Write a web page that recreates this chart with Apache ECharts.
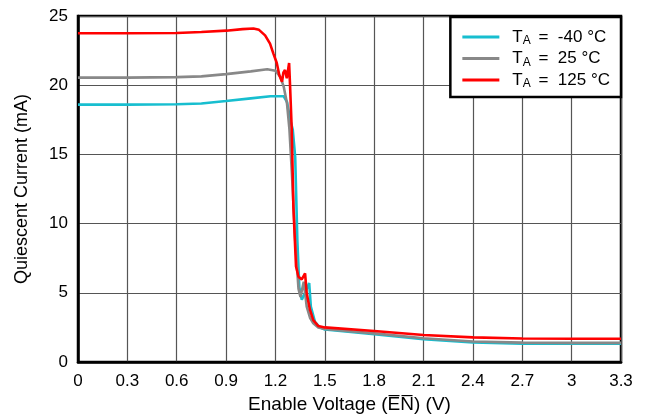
<!DOCTYPE html>
<html>
<head>
<meta charset="utf-8">
<script src="https://cdn.jsdelivr.net/npm/echarts@6/dist/echarts.min.js"></script>
<style>html,body{margin:0;padding:0;background:#fff}#c{width:650px;height:420px}</style>
</head>
<body>
<div id="c"></div>
<script>
const seriesNames = ['TA = -40 °C', 'TA = 25 °C', 'TA = 125 °C'];
const legendTemps = ['-40', '25', '125'];
const xTicks = { min: 0, max: 3.3, interval: 0.3 };
const yTicks = { min: 0, max: 25, interval: 5 };

const cyanX = [0, 0.3, 0.6, 0.75, 0.9, 1.05, 1.17, 1.25, 1.27, 1.29, 1.305, 1.32, 1.333, 1.345, 1.36, 1.38, 1.405, 1.415, 1.44, 1.47, 1.5, 1.8, 2.1, 2.4, 2.7, 3.0, 3.3];
const cyanY = [18.6, 18.6, 18.62, 18.68, 18.86, 19.05, 19.2, 19.2, 18.8, 17.5, 16.8, 14.8, 8.8, 5.4, 4.5, 5.0, 5.7, 4.0, 2.9, 2.5, 2.35, 2.0, 1.65, 1.42, 1.33, 1.32, 1.32];

const grayX = [0, 0.3, 0.6, 0.75, 0.9, 1.05, 1.15, 1.2, 1.23, 1.25, 1.27, 1.285, 1.3, 1.32, 1.34, 1.352, 1.372, 1.39, 1.41, 1.43, 1.46, 1.5, 1.8, 2.1, 2.4, 2.7, 3.0, 3.3];
const grayY = [20.55, 20.55, 20.58, 20.64, 20.8, 21.0, 21.15, 21.05, 20.6, 19.9, 18.7, 16.8, 13.6, 8.8, 5.3, 4.7, 5.8, 4.0, 3.2, 2.8, 2.5, 2.38, 2.07, 1.72, 1.48, 1.4, 1.38, 1.38];

const redX = [0, 0.3, 0.6, 0.75, 0.9, 1.0, 1.066, 1.1, 1.137, 1.167, 1.187, 1.208, 1.224, 1.24, 1.248, 1.258, 1.269, 1.283, 1.289, 1.299, 1.309, 1.325, 1.34, 1.36, 1.38, 1.39, 1.41, 1.43, 1.46, 1.5, 1.8, 2.1, 2.4, 2.7, 3.0, 3.3];
const redY = [23.75, 23.75, 23.77, 23.84, 23.94, 24.05, 24.1, 24.0, 23.6, 23.0, 22.3, 21.6, 20.7, 20.25, 20.9, 21.1, 20.5, 21.6, 19.9, 16.8, 11.2, 6.9, 6.16, 5.97, 6.4, 4.96, 3.76, 3.03, 2.6, 2.5, 2.24, 1.95, 1.78, 1.7, 1.68, 1.68];

const zip = (xs, ys) => xs.map((x, i) => [x, ys[i]]);
const colors = ['#17BECF', '#888888', '#FF0000'];
const FONT = 'Liberation Sans, Arial, sans-serif';

const chart = echarts.init(document.getElementById('c'), null, { renderer: 'canvas' });
chart.setOption({
  animation: false,
  backgroundColor: '#fff',
  grid: { left: 78, right: 29, top: 16, bottom: 58, show: true, borderColor: '#000', borderWidth: 2.5, containLabel: false },
  legend: {
    data: seriesNames,
    orient: 'vertical',
    right: 29, top: 17,
    backgroundColor: '#fff',
    borderColor: '#000', borderWidth: 2.5,
    padding: [10, 11, 7, 12],
    itemGap: 1.5,
    itemWidth: 37, itemHeight: 3,
    icon: 'rect',
    formatter: function (name) {
      const i = seriesNames.indexOf(name);
      return '{a|T}{s|A}{a| =  ' + legendTemps[i] + ' °C}';
    },
    textStyle: {
      fontFamily: FONT, fontSize: 17, color: '#000',
      rich: {
        a: { fontFamily: FONT, fontSize: 17, color: '#000', lineHeight: 18 },
        s: { fontFamily: FONT, fontSize: 12, color: '#000', padding: [8, 3, 0, 0], lineHeight: 18 }
      },
      padding: [0, 0, 0, 8]
    }
  },
  xAxis: {
    type: 'value', min: xTicks.min, max: xTicks.max, interval: xTicks.interval,
    name: 'Enable Voltage (E\u0305N\u0305) (V)', nameLocation: 'middle', nameGap: 33,
    nameTextStyle: { fontFamily: FONT, fontSize: 19, color: '#000' },
    axisLine: { show: true, lineStyle: { color: '#000', width: 2.5 } },
    axisTick: { show: false },
    axisLabel: { fontFamily: FONT, fontSize: 17, color: '#000', margin: 11,
      formatter: v => String(Math.round(v * 10) / 10) },
    splitLine: { show: true, lineStyle: { color: '#555', width: 1.2 } }
  },
  yAxis: {
    type: 'value', min: yTicks.min, max: yTicks.max, interval: yTicks.interval,
    name: 'Quiescent Current (mA)', nameLocation: 'middle', nameGap: 47,
    nameTextStyle: { fontFamily: FONT, fontSize: 18, color: '#000' },
    axisLine: { show: true, lineStyle: { color: '#000', width: 2.5 } },
    axisTick: { show: false },
    axisLabel: { fontFamily: FONT, fontSize: 17, color: '#000', margin: 10 },
    splitLine: { show: true, lineStyle: { color: '#555', width: 1.2 } }
  },
  series: [
    { name: seriesNames[0], type: 'line', data: zip(cyanX, cyanY), showSymbol: false, symbol: 'none', lineStyle: { color: colors[0], width: 2.6 }, itemStyle: { color: colors[0] } },
    { name: seriesNames[1], type: 'line', data: zip(grayX, grayY), showSymbol: false, symbol: 'none', lineStyle: { color: colors[1], width: 2.6 }, itemStyle: { color: colors[1] } },
    { name: seriesNames[2], type: 'line', data: zip(redX, redY), showSymbol: false, symbol: 'none', lineStyle: { color: colors[2], width: 2.6 }, itemStyle: { color: colors[2] } }
  ]
});
</script>
</body>
</html>
